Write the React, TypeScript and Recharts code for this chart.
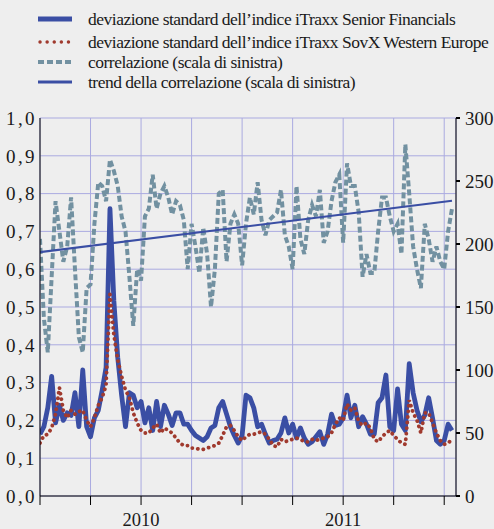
import React from 'react';
import {
  LineChart,
  Line,
  XAxis,
  YAxis,
  CartesianGrid,
} from 'recharts';

// weekly observations, first week of January 2010 onwards
const CORRELATION = [
  0.68, 0.47, 0.38, 0.58, 0.78, 0.7, 0.62, 0.66, 0.79, 0.6,
  0.42, 0.38, 0.55, 0.56, 0.72, 0.83, 0.82, 0.78, 0.89, 0.86,
  0.82, 0.74, 0.7, 0.58, 0.45, 0.6, 0.57, 0.74, 0.76, 0.85,
  0.76, 0.8, 0.82, 0.79, 0.745, 0.78, 0.77, 0.73, 0.6, 0.72,
  0.66, 0.59, 0.71, 0.64, 0.5, 0.6, 0.8, 0.81, 0.62, 0.72,
  0.745, 0.72, 0.61, 0.72, 0.79, 0.745, 0.83, 0.73, 0.69, 0.73,
  0.74, 0.75, 0.81, 0.69, 0.66, 0.6, 0.82, 0.68, 0.64, 0.73,
  0.77, 0.74, 0.81, 0.67, 0.7, 0.78, 0.83, 0.85, 0.67, 0.88,
  0.82, 0.82, 0.75, 0.58, 0.64, 0.59, 0.59, 0.7, 0.79, 0.79,
  0.74, 0.7, 0.72, 0.64, 0.93, 0.8, 0.66, 0.6, 0.55, 0.72,
  0.68, 0.62, 0.66, 0.62, 0.6, 0.7, 0.76,
];

const SENIOR_FIN = [
  49, 55, 70, 95, 58, 72, 60, 66, 64, 82,
  55, 100, 55, 47, 62, 68, 84, 102, 228, 155,
  110, 80, 55, 82, 80, 70, 75, 58, 70, 52,
  75, 55, 72, 65, 56, 66, 66, 57, 57, 52,
  48, 46, 44, 47, 54, 56, 70, 75, 65, 55,
  48, 42, 48, 80, 78, 70, 55, 57, 49, 42,
  44, 45, 50, 62, 50, 57, 46, 54, 46, 41,
  43, 47, 51, 41, 49, 65, 56, 57, 62, 80,
  62, 72, 55, 63, 57, 49, 49, 74, 78, 96,
  55, 52, 85, 57, 52, 105, 82, 68, 59, 64,
  78, 62, 44, 41, 44, 57, 52,
];

const SOVX_WE = [
  42, 48, 49, 54, 65, 86, 68, 62, 68, 65,
  67, 68, 60, 55, 62, 72, 78, 88, 160, 128,
  108, 95, 84, 78, 66, 58, 52, 50, 50, 54,
  57, 50, 54, 52, 50, 46, 42, 40, 40, 38,
  38, 37, 37, 38, 39, 40, 42, 48, 55, 56,
  52, 47, 44, 47, 49, 49, 50, 51, 49, 45,
  40, 39, 45, 43, 44, 45, 46, 45, 43, 43,
  45, 44, 45, 46, 47, 50, 57, 62, 60, 73,
  68, 70, 59, 56, 58, 54, 45, 43, 47, 50,
  52, 48, 45, 42, 41, 76, 66, 60, 50, 66,
  66, 58, 50, 44, 41, 42, 45,
];

const TREND_START = 0.645;
const TREND_END = 0.781;

const LEFT_TICKS = [0, 0.1, 0.2, 0.3, 0.4, 0.5, 0.6, 0.7, 0.8, 0.9, 1.0];
const RIGHT_TICKS = [0, 50, 100, 150, 200, 250, 300];
const QUARTER_TICKS = [0, 3, 6, 9, 12, 15, 18, 21, 24];
const YEAR_TICKS = [6, 18];
const YEAR_LABELS = ['2010', '2011'];

const weekToMonth = (i: number) => (i * 12) / 52;

const series = CORRELATION.map((c, i) => ({
  m: weekToMonth(i),
  corr: c,
  fin: SENIOR_FIN[i],
  sov: SOVX_WE[i],
}));

const trend = [
  { m: 0, v: TREND_START },
  { m: weekToMonth(CORRELATION.length - 1), v: TREND_END },
];

const BLUE = '#3a4ea4';
const RED = '#a03a2e';
const GREY = '#7291a1';
const GRID = '#aaaae0';
const FONT = '"Liberation Serif", "Times New Roman", serif';

const legendItems = [
  { label: 'deviazione standard dell\u2019indice iTraxx Senior Financials', kind: 'fin' },
  { label: 'deviazione standard dell\u2019indice iTraxx SovX Western Europe', kind: 'sov' },
  { label: 'correlazione (scala di sinistra)', kind: 'corr' },
  { label: 'trend della correlazione (scala di sinistra)', kind: 'trend' },
];

const Swatch = ({ kind }: { kind: string }) => {
  const common = { x1: 1, x2: 35, y1: 6, y2: 6 };
  let el;
  if (kind === 'fin') el = <line {...common} stroke={BLUE} strokeWidth={5} />;
  else if (kind === 'sov')
    el = <line {...common} x1={3} stroke={RED} strokeWidth={3.4} strokeDasharray="0.1 7" strokeLinecap="round" />;
  else if (kind === 'corr') el = <line {...common} stroke={GREY} strokeWidth={4} strokeDasharray="6 3" />;
  else el = <line {...common} stroke={BLUE} strokeWidth={3} />;
  return (
    <svg width={36} height={12} style={{ display: 'block' }}>
      {el}
    </svg>
  );
};

export default function App() {
  return (
    <div
      style={{
        position: 'absolute',
        left: 0,
        top: 0,
        width: 494,
        height: 529,
        background: '#eeeeee',
        fontFamily: FONT,
        overflow: 'hidden',
      }}
    >
      {legendItems.map((it, i) => (
        <div
          key={it.kind}
          style={{
            position: 'absolute',
            left: 37,
            top: [19, 42, 62, 82][i] - 10,
            height: 20,
            display: 'flex',
            alignItems: 'center',
            whiteSpace: 'nowrap',
          }}
        >
          <Swatch kind={it.kind} />
          <span style={{ marginLeft: 15, fontSize: 17.5, color: '#1a1a1a', letterSpacing: -0.5 }}>
            {it.label}
          </span>
        </div>
      ))}

      <div style={{ position: 'absolute', left: 0, top: 0 }}>
        <LineChart width={494} height={529} margin={{ top: 118, right: 0, bottom: 0, left: 0 }}>
          <CartesianGrid xAxisId="q" yAxisId="left" stroke={GRID} strokeWidth={1} />
          <XAxis
            xAxisId="q"
            type="number"
            dataKey="m"
            domain={[0, 24.7]}
            ticks={QUARTER_TICKS}
            tickFormatter={() => ''}
            axisLine={{ stroke: '#000' }}
            tickLine={{ stroke: '#000' }}
            tickSize={9}
            height={12}
            allowDataOverflow
          />
          <XAxis
            xAxisId="yr"
            type="number"
            dataKey="m"
            domain={[0, 24.7]}
            ticks={YEAR_TICKS}
            tickFormatter={(v: number) => YEAR_LABELS[YEAR_TICKS.indexOf(v)] ?? ''}
            axisLine={false}
            tickLine={false}
            tickSize={0}
            tickMargin={5}
            height={21}
            tick={{ fill: '#1a1a1a', fontSize: 18.5, fontFamily: FONT }}
            allowDataOverflow
          />
          <YAxis
            yAxisId="left"
            orientation="left"
            width={40}
            domain={[0, 1]}
            ticks={LEFT_TICKS}
            tickFormatter={(v: number) => v.toFixed(1).replace('.', ',')}
            axisLine={{ stroke: '#000' }}
            tickLine={false}
            tickSize={0}
            tickMargin={3}
            tick={{ fill: '#1a1a1a', fontSize: 19, fontFamily: FONT, letterSpacing: 2.4 }}
            allowDataOverflow
          />
          <YAxis
            yAxisId="right"
            orientation="right"
            width={38}
            domain={[0, 300]}
            ticks={RIGHT_TICKS}
            axisLine={{ stroke: '#000' }}
            tickLine={{ stroke: '#000', strokeWidth: 2 }}
            tickSize={4}
            tickMargin={5}
            tick={{ fill: '#1a1a1a', fontSize: 19, fontFamily: FONT }}
            allowDataOverflow
          />
          <Line
            xAxisId="q"
            yAxisId="left"
            data={series}
            dataKey="corr"
            stroke={GREY}
            strokeWidth={4}
            strokeDasharray="6 3"
            dot={false}
            activeDot={false}
            isAnimationActive={false}
            type="linear"
          />
          <Line
            xAxisId="q"
            yAxisId="right"
            data={series}
            dataKey="fin"
            stroke={BLUE}
            strokeWidth={4.8}
            strokeLinejoin="round"
            dot={false}
            activeDot={false}
            isAnimationActive={false}
            type="linear"
          />
          <Line
            xAxisId="q"
            yAxisId="right"
            data={series}
            dataKey="sov"
            stroke={RED}
            strokeWidth={3.8}
            strokeDasharray="0.1 5.5"
            strokeLinecap="round"
            dot={false}
            activeDot={false}
            isAnimationActive={false}
            type="linear"
          />
          <Line
            xAxisId="q"
            yAxisId="left"
            data={trend}
            dataKey="v"
            stroke={BLUE}
            strokeWidth={2.2}
            dot={false}
            activeDot={false}
            isAnimationActive={false}
            type="linear"
          />
        </LineChart>
      </div>
    </div>
  );
}
